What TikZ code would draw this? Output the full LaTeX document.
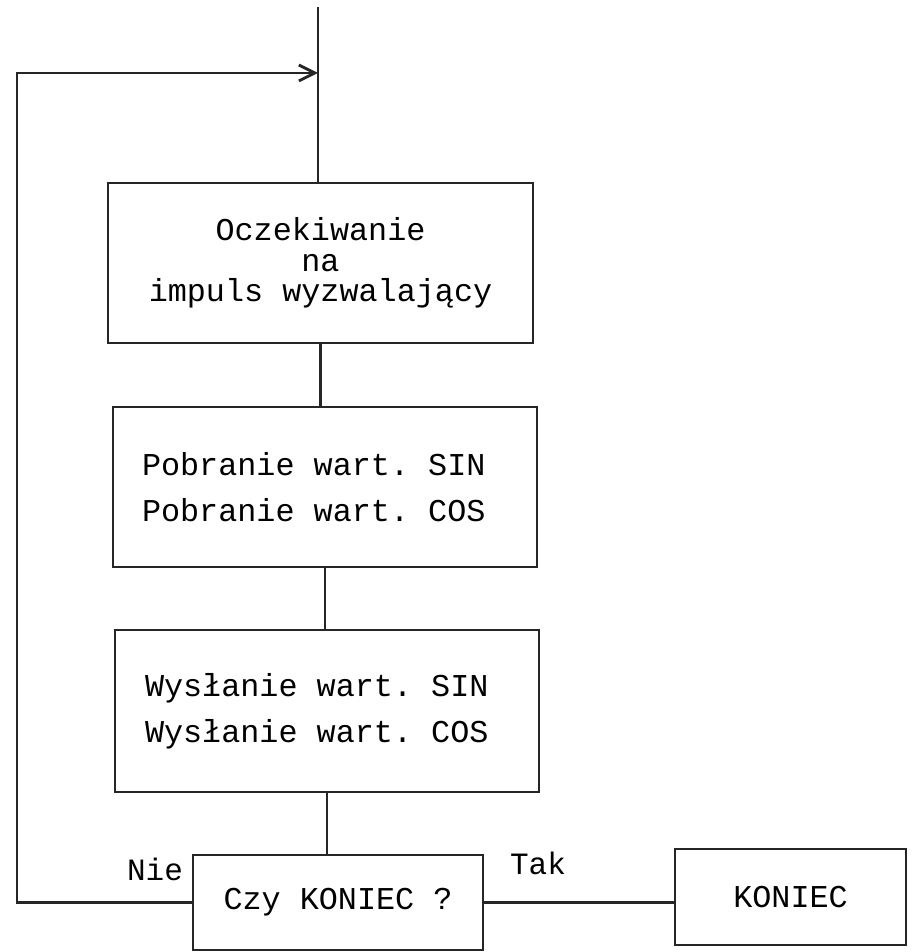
\documentclass[tikz,border=0pt]{standalone}
\usepackage{fontspec}
\setmonofont{Liberation Mono}
\usetikzlibrary{arrows.meta,calc}
\newcommand{\fixsp}{\spaceskip=0pt\xspaceskip=0pt\relax}
\begin{document}
\frenchspacing
\begin{tikzpicture}[x=0.5pt,y=-0.5pt,
  line/.style={draw=black!85,line width=1.4pt},
  box/.style={line, rectangle, inner sep=0pt, text=black,
    font=\ttfamily\frenchspacing\fontsize{15.9}{23}\selectfont},
  lbl/.style={font=\ttfamily\fontsize{15.5}{18}\selectfont, inner sep=0pt, text=black}]
\useasboundingbox (0,0) rectangle (914,952);
\node[box, minimum width=212.5pt, minimum height=80pt, align=center,
  font=\ttfamily\fontsize{15.9}{15.2}\selectfont] (b1) at (320.5,263)
  {\fixsp Oczekiwanie\\na\\impuls wyzwalający};
\node[box, minimum height=80pt, text width=183pt, inner xsep=14.5pt, align=left]
  (b2) at (325,487) {\fixsp Pobranie wart. SIN\\Pobranie wart. COS};
\node[box, minimum height=81pt, text width=182pt, inner xsep=15pt, align=left]
  (b3) at (327,711) {\fixsp Wysłanie wart. SIN\\Wysłanie wart. COS};
\node[box, minimum width=145pt, minimum height=47.5pt] (b4) at (338,902.5) {Czy KONIEC ?};
\node[box, minimum width=115.5pt, minimum height=48pt] (b5) at (790.5,897) {KONIEC};
\coordinate (top) at (318,7);
\coordinate (lc) at (17,73);
\draw[line] (top) -- (top |- b1.north);
\draw[line] (b1.south) -- (b1.south |- b2.north);
\draw[line] (b2.south) -- (b2.south |- b3.north);
\draw[line] (b3.south) -- (b3.south |- b4.north);
\draw[line] (b4.east) -- (b4.east -| b5.west);
\draw[line, -{Straight Barb[length=8pt,width=8pt]}] (b4.west) -| (lc) -- (lc -| top);
\node[lbl, anchor=base] (nie) at (155,880) {Nie};
\node[lbl, anchor=base] (tak) at (538,874) {Tak};
\end{tikzpicture}
\end{document}
